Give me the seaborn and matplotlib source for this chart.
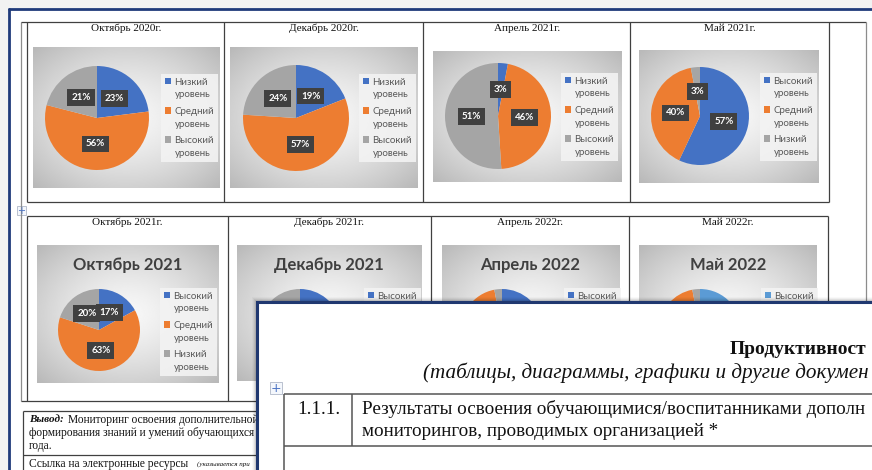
import numpy as np
import matplotlib.pyplot as plt
import seaborn as sns
from matplotlib.patches import Rectangle

sns.set_theme(style="white")
plt.rcParams['font.family'] = ['Liberation Serif', 'DejaVu Serif']
CHART_FONT = ['Lato', 'DejaVu Sans']

W, H = 872, 470

# ---- data ----
periods_top = ["Октябрь 2020г.", "Декабрь 2020г.", "Апрель 2021г.", "Май 2021г."]
periods_bottom = ["Октябрь 2021г.", "Декабрь 2021г.", "Апрель 2022г.", "Май 2022г."]
titles_bottom = ["Октябрь 2021", "Декабрь 2021", "Апрель 2022", "Май 2022"]

levels_low_first = ["Низкий\nуровень", "Средний\nуровень", "Высокий\nуровень"]
levels_high_first = ["Высокий\nуровень", "Средний\nуровень", "Низкий\nуровень"]

share_oct20 = [23, 56, 21]
share_dec20 = [19, 57, 24]
share_apr21 = [3, 46, 51]
share_may21 = [57, 40, 3]
share_oct21 = [17, 63, 20]
share_dec21 = [22, 58, 20]   # mostly hidden behind the second window
share_apr22 = [48, 49, 3]    # mostly hidden
share_may22 = [54, 43, 3]    # mostly hidden

excel = sns.color_palette(["#4472C4", "#ED7D31", "#A5A5A5"])
excel_light = sns.color_palette(["#5B9BD5", "#ED7D31", "#A5A5A5"])

charts = [
    # values, labels, colors, box(x0,y0,x1,y1), pie(cx,cy,r), legend(x,y), inner title, covered
    (share_oct20, levels_low_first, excel, (33, 47, 219, 188), (97, 118, 52), (161, 74), None, False),
    (share_dec20, levels_low_first, excel, (230, 47, 418, 188), (296, 118, 53), (359, 74), None, False),
    (share_apr21, levels_low_first, excel, (433, 51, 621, 182), (498, 116, 53), (561, 73), None, False),
    (share_may21, levels_high_first, excel, (639, 50, 818, 183), (700, 116, 49), (760, 73), None, False),
    (share_oct21, levels_high_first, excel, (37, 245, 218, 383), (99, 330, 41), (160, 288), titles_bottom[0], False),
    (share_dec21, levels_high_first, excel, (237, 245, 421, 381), (300, 330, 41), (364, 288), titles_bottom[1], True),
    (share_apr22, levels_high_first, excel, (442, 245, 619, 383), (502, 330, 41), (564, 288), titles_bottom[2], True),
    (share_may22, levels_high_first, excel_light, (639, 245, 817, 383), (700, 330, 41), (761, 288), titles_bottom[3], True),
]

fig = plt.figure(figsize=(W / 100, H / 100), dpi=100)


def px_axes(x0, y0, x1, y1):
    return fig.add_axes([x0 / W, 1 - y1 / H, (x1 - x0) / W, (y1 - y0) / H])


# ---- background document ----
bg = fig.add_axes([0, 0, 1, 1])
bg.set_xlim(0, W)
bg.set_ylim(H, 0)
bg.axis('off')
bg.add_patch(Rectangle((0, 0), W, H, fc='#f2f2f2', ec='none'))
bg.add_patch(Rectangle((9, 9), W, H, fc='white', ec='none'))
bg.plot([9, W], [9, 9], color='#1f3a7a', lw=2)
bg.plot([9, 9], [9, H], color='#1f3a7a', lw=2)


def line(ax, xs, ys, c='#404040', lw=0.9):
    ax.plot(xs, ys, color=c, lw=lw, solid_capstyle='butt')


# outer frame
line(bg, [21, 21], [22, 401], c='#8c8c8c')
line(bg, [21, 866], [22, 22])
line(bg, [866, 866], [22, H], c='#8c8c8c')
line(bg, [21, 828], [401, 401])
# row 1 table
for x in [27, 224, 423, 630, 829]:
    line(bg, [x, x], [22, 202])
line(bg, [27, 829], [202, 202])
# row 2 table
line(bg, [27, 828], [216, 216])
for x in [27, 228, 431, 629, 828]:
    line(bg, [x, x], [216, 401])

for i, t in enumerate(periods_top):
    cx = [126, 324, 527, 730][i]
    bg.text(cx, 28.5, t, ha='center', va='center', fontsize=8, color='#111111')
for i, t in enumerate(periods_bottom):
    cx = [127, 329, 530, 728][i]
    bg.text(cx, 222.5, t, ha='center', va='center', fontsize=8, color='#111111')

# table move handle
bg.add_patch(Rectangle((17, 206), 9, 9, fc='#f4f7fc', ec='#b0b8c8', lw=0.6))
bg.text(21.5, 210.5, '+', ha='center', va='center', fontsize=7, color='#4a72c4',
        family=['DejaVu Sans'])

# conclusion block
line(bg, [23, 300], [411, 411])
line(bg, [23, 23], [411, H])
line(bg, [23, 300], [455, 455])
bg.text(29, 420, 'Вывод:', ha='left', va='center', fontsize=8, weight='bold', style='italic', color='#111111')
bg.text(68, 420, 'Мониторинг освоения дополнительной', ha='left', va='center', fontsize=8.3, color='#111111')
bg.text(29, 433, 'формирования знаний и умений обучающихся', ha='left', va='center', fontsize=8.3, color='#111111')
bg.text(29, 446, 'года.', ha='left', va='center', fontsize=8.3, color='#111111')
bg.text(29, 464, 'Ссылка на электронные ресурсы', ha='left', va='center', fontsize=8.3, color='#111111')
bg.text(197, 464.5, '(указывается при', ha='left', va='center', fontsize=5, style='italic', color='#111111')

# ---- pie charts ----
yy, xx = np.mgrid[-1:1:200j, -1:1:200j]
dist = np.clip(np.sqrt(xx ** 2 + yy ** 2) / np.sqrt(2), 0, 1)
grad = 0.97 - 0.25 * dist ** 1.4

for values, labels, colors, box, pie, leg, title, covered in charts:
    bx = px_axes(*box)
    bx.imshow(grad, cmap='gray', vmin=0, vmax=1, aspect='auto', extent=(0, 1, 0, 1))
    bx.set_xlim(0, 1)
    bx.set_ylim(0, 1)
    bx.axis('off')
    if title:
        bx.text(0.5, 1 - 20 / (box[3] - box[1]), title, transform=bx.transAxes, ha='center',
                va='center', fontsize=12, weight='bold', color='#404040', family=CHART_FONT)

    cx, cy, r = pie
    pax = px_axes(cx - r, cy - r, cx + r, cy + r)
    wedges, _, autotexts = pax.pie(values, colors=colors, startangle=90, counterclock=False,
                                   autopct='%.0f%%', pctdistance=0.5,
                                   wedgeprops=dict(linewidth=0),
                                   textprops=dict(color='white', fontsize=7, weight='bold',
                                                  family=CHART_FONT))
    for t in autotexts:
        t.set_bbox(dict(boxstyle='square,pad=0.4', fc='#404040', ec='none'))
    pax.set_xlim(-1, 1)
    pax.set_ylim(-1, 1)
    pax.axis('off')

    lg = pax.legend(wedges, labels, loc='upper left', bbox_to_anchor=(leg[0] / W, 1 - leg[1] / H),
                    bbox_transform=fig.transFigure, frameon=True, fancybox=False,
                    facecolor='#f3f3f3', edgecolor='none', framealpha=0.9,
                    labelspacing=0.8, handlelength=0.65, handleheight=0.65,
                    handletextpad=0.35, borderpad=0.4, borderaxespad=0,
                    prop=dict(family=CHART_FONT, size=7))
    for t in lg.get_texts():
        t.set_color('#595959')
        t.set_linespacing(1.5)
    # square marker sits next to the first line of each label, as in Excel
    for col in lg._legend_handle_box.get_children():
        for row in col.get_children():
            row.align = 'top'

    if covered:
        # these parts lie under the second window anyway
        for t in autotexts:
            t.set_visible(False)
        for t in lg.get_texts()[1:]:
            t.set_visible(False)

# ---- second window on top ----
fg = fig.add_axes([0, 0, 1, 1])
fg.set_xlim(0, W)
fg.set_ylim(H, 0)
fg.axis('off')
fg.patch.set_alpha(0)
for k, a in enumerate([0.05, 0.08, 0.12, 0.16, 0.2]):
    fg.add_patch(Rectangle((252 + k, 297 + k), W, H, fc='black', ec='none', alpha=a * 0.5))
fg.add_patch(Rectangle((257, 302), W, H, fc='white', ec='#203870', lw=2.2))

# window texts are cut by the screen edge, keep the visible part
fg.text(730, 349, 'Продуктивност', ha='left', va='center', fontsize=14, weight='bold', color='#111111')
fg.text(423, 373, '(таблицы, диаграммы, графики и другие докумен', ha='left', va='center',
        fontsize=15.2, style='italic', color='#111111')
fg.add_patch(Rectangle((270, 382), 12, 12, fc='#f4f7fc', ec='#b0b8c8', lw=0.6))
fg.text(276, 388, '+', ha='center', va='center', fontsize=9, color='#4a72c4', family=['DejaVu Sans'])
line(fg, [284, W], [394, 394], c='#555555', lw=1.1)
line(fg, [284, W], [446, 446], c='#555555', lw=1.1)
line(fg, [284, 284], [394, H], c='#555555', lw=1.1)
line(fg, [352, 352], [394, 446], c='#555555', lw=1.1)
fg.text(297, 409, '1.1.1.', ha='left', va='center', fontsize=13.8, color='#111111')
fg.text(362, 409, 'Результаты освоения обучающимися/воспитанниками дополн', ha='left',
        va='center', fontsize=13.8, color='#111111')
fg.text(362, 431, 'мониторингов, проводимых организацией *', ha='left', va='center',
        fontsize=13.8, color='#111111')

fig.savefig('out.png', dpi=100)
